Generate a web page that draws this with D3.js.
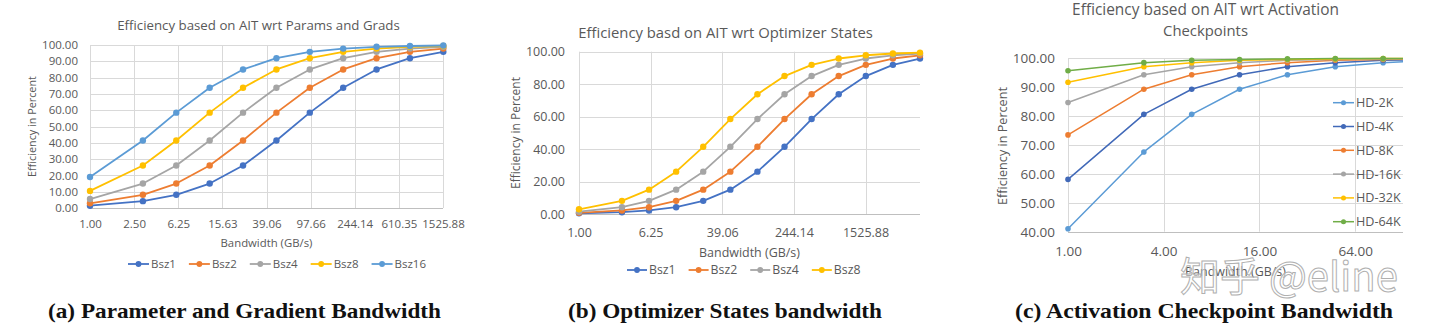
<!DOCTYPE html>
<html><head><meta charset="utf-8">
<script src="https://cdn.jsdelivr.net/npm/d3@7"></script>
<style>
body{margin:0;background:#fff}
svg{display:block}
text{font-family:'Open Sans',sans-serif;fill:#595959}
</style>
</head><body>
<svg id="chart" width="1440" height="333"></svg>
<script>
// ---------- DATA ----------
// Panel (a): Params and Grads
const bandwidthA = [1, 3, 6, 12, 24, 48, 96, 192, 384, 768, 1536];
const seriesNamesA = ["Bsz1", "Bsz2", "Bsz4", "Bsz8", "Bsz16"];
const bsz1A  = [1.4, 4.2, 8.1, 15.0, 26.1, 41.4, 58.5, 73.8, 85.0, 91.9, 95.8];
const bsz2A  = [2.9, 8.1, 15.0, 26.1, 41.4, 58.5, 73.8, 85.0, 91.9, 95.8, 97.8];
const bsz4A  = [5.5, 15.0, 26.1, 41.4, 58.5, 73.8, 85.0, 91.9, 95.8, 97.8, 98.9];
const bsz8A  = [10.5, 26.1, 41.4, 58.5, 73.8, 85.0, 91.9, 95.8, 97.8, 98.9, 99.4];
const bsz16A = [19.0, 41.4, 58.5, 73.8, 85.0, 91.9, 95.8, 97.8, 98.9, 99.4, 99.7];
const xTicksA = [1, 2.5, 6.25, 15.625, 39.0625, 97.65625, 244.140625, 610.3515625, 1525.87890625];
const xTickLabelsA = ["1.00", "2.50", "6.25", "15.63", "39.06", "97.66", "244.14", "610.35", "1525.88"];
const yTicksA = [0, 10, 20, 30, 40, 50, 60, 70, 80, 90, 100];
const yTickLabelsA = ["0.00", "10.00", "20.00", "30.00", "40.00", "50.00", "60.00", "70.00", "80.00", "90.00", "100.00"];

// Panel (b): Optimizer States
const bandwidthB = [1, 3, 6, 12, 24, 48, 96, 192, 384, 768, 1536, 3072, 6144];
const seriesNamesB = ["Bsz1", "Bsz2", "Bsz4", "Bsz8"];
const bsz1B = [0.4, 1.1, 2.2, 4.2, 8.1, 15.0, 26.1, 41.4, 58.5, 73.8, 85.0, 91.9, 95.8];
const bsz2B = [0.7, 2.2, 4.2, 8.1, 15.0, 26.1, 41.4, 58.5, 73.8, 85.0, 91.9, 95.8, 97.8];
const bsz4B = [1.4, 4.2, 8.1, 15.0, 26.1, 41.4, 58.5, 73.8, 85.0, 91.9, 95.8, 97.8, 98.9];
const bsz8B = [2.9, 8.1, 15.0, 26.1, 41.4, 58.5, 73.8, 85.0, 91.9, 95.8, 97.8, 98.9, 99.4];
const xTicksB = [1, 6.25, 39.0625, 244.140625, 1525.87890625];
const xTickLabelsB = ["1.00", "6.25", "39.06", "244.14", "1525.88"];
const yTicksB = [0, 20, 40, 60, 80, 100];
const yTickLabelsB = ["0.00", "20.00", "40.00", "60.00", "80.00", "100.00"];

// Panel (c): Activation Checkpoints
const bandwidthC = [1, 3, 6, 12, 24, 48, 96, 192];
const seriesNamesC = ["HD-2K", "HD-4K", "HD-8K", "HD-16K", "HD-32K", "HD-64K"];
const hd2kC  = [41.0, 67.6, 80.6, 89.3, 94.3, 97.1, 98.5, 99.3];
const hd4kC  = [58.1, 80.6, 89.3, 94.3, 97.1, 98.5, 99.3, 99.6];
const hd8kC  = [73.5, 89.3, 94.3, 97.1, 98.5, 99.3, 99.6, 99.8];
const hd16kC = [84.7, 94.3, 97.1, 98.5, 99.3, 99.6, 99.8, 99.9];
const hd32kC = [91.7, 97.1, 98.5, 99.3, 99.6, 99.8, 99.9, 99.95];
const hd64kC = [95.7, 98.5, 99.3, 99.6, 99.8, 99.9, 99.95, 99.98];
const xTicksC = [1, 4, 16, 64];
const xTickLabelsC = ["1.00", "4.00", "16.00", "64.00"];
const yTicksC = [40, 50, 60, 70, 80, 90, 100];
const yTickLabelsC = ["40.00", "50.00", "60.00", "70.00", "80.00", "90.00", "100.00"];

// ---------- DRAW ----------
const svg = d3.select("#chart");
const GRID = "#d9d9d9";

function fitWidth(sel, w) {
  const m = sel.node().getComputedTextLength();
  const fs = parseFloat(sel.attr("font-size"));
  if (m > 0) sel.attr("font-size", fs * w / m);
  return sel;
}

function drawPanel(o) {
  const g = svg.append("g");
  const x = d3.scaleLog().base(o.base).domain(o.xDomain).range([o.left, o.right]);
  const y = d3.scaleLinear().domain(o.yDomain).range([o.bottom, o.top]);

  // gridlines
  g.append("g").selectAll("line").data(o.yTicks).join("line")
    .attr("x1", o.left).attr("x2", o.right)
    .attr("y1", d => Math.round(y(d)) + 0.5).attr("y2", d => Math.round(y(d)) + 0.5)
    .attr("stroke", GRID).attr("stroke-width", 1);
  g.append("g").selectAll("line").data(o.xTicks).join("line")
    .attr("x1", d => Math.round(x(d)) + 0.5).attr("x2", d => Math.round(x(d)) + 0.5)
    .attr("y1", o.top).attr("y2", o.bottom)
    .attr("stroke", GRID).attr("stroke-width", 1);
  g.append("line").attr("x1", o.left).attr("x2", o.right)
    .attr("y1", Math.round(o.bottom) + 0.5).attr("y2", Math.round(o.bottom) + 0.5)
    .attr("stroke", "#bfbfbf");

  // axes (labels only)
  const xAxis = g.append("g").attr("transform", `translate(0,${o.xLabelY})`)
    .call(d3.axisBottom(x).tickValues(o.xTicks).tickFormat((d, i) => o.xTickLabels[i]).tickSize(0).tickPadding(0));
  xAxis.select(".domain").remove();
  xAxis.selectAll("text").attr("font-size", o.tickFont).attr("fill", "#595959")
    .attr("dy", "0.32em").attr("y", 0);

  const yAxis = g.append("g").attr("transform", `translate(${o.yLabelX},0)`)
    .call(d3.axisLeft(y).tickValues(o.yTicks).tickFormat((d, i) => o.yTickLabels[i]).tickSize(0).tickPadding(0));
  yAxis.select(".domain").remove();
  yAxis.selectAll("text").attr("font-size", o.tickFont).attr("fill", "#595959").attr("x", 0);

  // clip
  const cid = "clip" + o.id;
  svg.append("defs").append("clipPath").attr("id", cid).append("rect")
    .attr("x", o.left - 6).attr("y", o.top - 8)
    .attr("width", o.right - o.left + (o.clipRight ? 6 : 12)).attr("height", o.bottom - o.top + 16);
  const plot = g.append("g").attr("clip-path", `url(#${cid})`);

  const line = d3.line().x(d => x(d[0])).y(d => y(d[1]));
  o.series.forEach((s, si) => {
    const pts = o.xs.map((xv, i) => [xv, s[i]]);
    plot.append("path").datum(pts).attr("d", line)
      .attr("fill", "none").attr("stroke", o.colors[si]).attr("stroke-width", o.lw)
      .attr("stroke-linejoin", "round");
    plot.append("g").selectAll("circle").data(pts).join("circle")
      .attr("cx", d => x(d[0])).attr("cy", d => y(d[1])).attr("r", o.r)
      .attr("fill", o.colors[si]);
  });

  // titles
  o.title.forEach((t, i) => {
    const tt = svg.append("text").attr("x", o.titleX).attr("y", o.titleY[i])
      .attr("text-anchor", "middle").attr("font-size", 14).text(t);
    fitWidth(tt, o.titleW[i]);
  });
  const yt = svg.append("text")
    .attr("transform", `translate(${o.yTitleX},${o.yTitleY}) rotate(-90)`)
    .attr("text-anchor", "middle").attr("dy", "0.35em").attr("font-size", 12).text("Efficiency in Percent");
  fitWidth(yt, o.yTitleW);
  const xt = svg.append("text").attr("x", (o.left + o.right) / 2).attr("y", o.xTitleY)
    .attr("text-anchor", "middle").attr("dy", "0.35em").attr("font-size", 12).text("Bandwidth (GB/s)");
  fitWidth(xt, o.xTitleW);

  // legend
  const lg = svg.append("g");
  if (o.legendVertical) {
    o.names.forEach((n, i) => {
      const ly = o.legendY + i * o.legendStep;
      lg.append("line").attr("x1", o.legendX).attr("x2", o.legendX + o.legendLine)
        .attr("y1", ly).attr("y2", ly).attr("stroke", o.colors[i]).attr("stroke-width", o.lw);
      lg.append("circle").attr("cx", o.legendX + o.legendLine / 2).attr("cy", ly).attr("r", o.r * 0.9).attr("fill", o.colors[i]);
      lg.append("text").attr("x", o.legendX + o.legendLine + 2).attr("y", ly).attr("dy", "0.35em")
        .attr("font-size", o.legendFont).text(n);
    });
  } else {
    let lx = o.legendX;
    o.names.forEach((n, i) => {
      const ly = o.legendY;
      lg.append("line").attr("x1", lx).attr("x2", lx + o.legendLine)
        .attr("y1", ly).attr("y2", ly).attr("stroke", o.colors[i]).attr("stroke-width", o.lw);
      lg.append("circle").attr("cx", lx + o.legendLine / 2).attr("cy", ly).attr("r", o.r * 0.9).attr("fill", o.colors[i]);
      const t = lg.append("text").attr("x", lx + o.legendLine + 2).attr("y", ly).attr("dy", "0.35em")
        .attr("font-size", o.legendFont).text(n);
      lx = lx + o.legendLine + 2 + t.node().getComputedTextLength() + o.legendGap;
    });
  }
}

drawPanel({
  id: "a", base: 2.5, xDomain: [1, 1525.87890625], yDomain: [0, 100],
  left: 90, right: 443, top: 45, bottom: 208,
  xs: bandwidthA, series: [bsz1A, bsz2A, bsz4A, bsz8A, bsz16A], names: seriesNamesA,
  colors: ["#4472C4", "#ED7D31", "#A5A5A5", "#FFC000", "#5B9BD5"],
  xTicks: xTicksA, xTickLabels: xTickLabelsA, yTicks: yTicksA, yTickLabels: yTickLabelsA,
  tickFont: 11.5, xLabelY: 224, yLabelX: 78,
  title: ["Efficiency based on AIT wrt Params and Grads"], titleX: 258.5, titleY: [30], titleW: [283],
  yTitleX: 32, yTitleY: 126.5, yTitleW: 101, xTitleY: 243, xTitleW: 92,
  legendX: 128, legendY: 264, legendLine: 21, legendGap: 13, legendFont: 11.5,
  lw: 1.8, r: 3.2
});

drawPanel({
  id: "b", base: 6.25, xDomain: [1, 6144], yDomain: [0, 100],
  left: 579, right: 920, top: 51.7, bottom: 214,
  xs: bandwidthB, series: [bsz1B, bsz2B, bsz4B, bsz8B], names: seriesNamesB,
  colors: ["#4472C4", "#ED7D31", "#A5A5A5", "#FFC000"],
  xTicks: xTicksB, xTickLabels: xTickLabelsB, yTicks: yTicksB, yTickLabels: yTickLabelsB,
  tickFont: 12.5, xLabelY: 233, yLabelX: 565,
  title: ["Efficiency basd on AIT wrt Optimizer States"], titleX: 725.5, titleY: [38], titleW: [295],
  yTitleX: 516, yTitleY: 133, yTitleW: 112, xTitleY: 253, xTitleW: 101,
  legendX: 627, legendY: 270, legendLine: 20, legendGap: 13, legendFont: 12.3,
  lw: 1.8, r: 3.2
});

drawPanel({
  id: "c", base: 4, xDomain: [1, 128], yDomain: [40, 100], clipRight: true,
  left: 1068, right: 1403, top: 58.3, bottom: 231.7,
  xs: bandwidthC, series: [hd2kC, hd4kC, hd8kC, hd16kC, hd32kC, hd64kC], names: seriesNamesC,
  colors: ["#5B9BD5", "#4169B8", "#ED7D31", "#A5A5A5", "#FFC000", "#70AD47"],
  xTicks: xTicksC, xTickLabels: xTickLabelsC, yTicks: yTicksC, yTickLabels: yTickLabelsC,
  tickFont: 13.5, xLabelY: 252, yLabelX: 1055,
  title: ["Efficiency based on AIT wrt Activation", "Checkpoints"], titleX: 1205.5, titleY: [15, 36], titleW: [267, 85],
  yTitleX: 1003, yTitleY: 146, yTitleW: 118, xTitleY: 272, xTitleW: 101,
  legendVertical: true, legendX: 1333, legendY: 102.7, legendStep: 23.8, legendLine: 21, legendFont: 12.6,
  lw: 1.5, r: 2.8
});

// watermark
svg.append("text").attr("x", 1180).attr("y", 291)
  .style("font-family", "'Noto Sans CJK SC','Noto Sans',sans-serif").attr("font-size", 40)
  .style("fill", "rgba(255,255,255,0.5)").attr("stroke", "#b0b0b0").attr("stroke-width", 1)
  .text("知乎 @eline");

// captions
const caps = [
  {t: "(a) Parameter and Gradient Bandwidth", x: 244.5, w: 393},
  {t: "(b) Optimizer States bandwidth", x: 725, w: 314},
  {t: "(c) Activation Checkpoint Bandwidth", x: 1204, w: 378}
];
caps.forEach(c => {
  const t = svg.append("text").attr("x", c.x).attr("y", 318).attr("text-anchor", "middle")
    .style("font-family", "'Liberation Serif','DejaVu Serif',serif").style("font-weight", "bold")
    .attr("font-size", 21).style("fill", "#111").text(c.t);
  t.attr("textLength", c.w).attr("lengthAdjust", "spacingAndGlyphs");
});
</script>
</body></html>
